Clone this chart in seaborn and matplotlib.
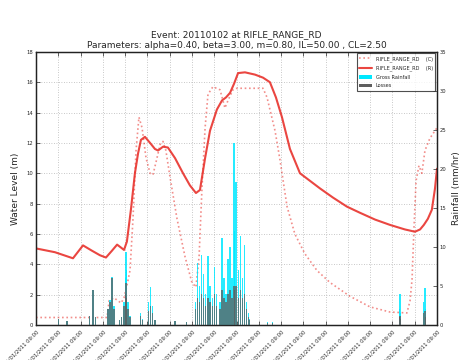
import numpy as np
import pandas as pd
import seaborn as sns
import matplotlib
matplotlib.use("Agg")
import matplotlib.pyplot as plt
from matplotlib.lines import Line2D
from matplotlib.patches import Patch

# ---- water level, observed (R) : time in days from start, level in m ----
obs_t = [0, 0.85, 1.66, 2.11, 2.51, 2.87, 3.14, 3.41, 3.64, 3.82, 3.95, 4.08,
         4.26, 4.44, 4.58, 4.71, 4.89, 5.12, 5.34, 5.48, 5.70, 5.92, 6.24, 6.60,
         6.91, 7.18, 7.36, 7.59, 7.81, 8.12, 8.35, 8.53, 8.71, 8.89, 9.07, 9.38,
         9.83, 10.19, 10.50, 10.77, 11.04, 11.40, 11.85, 12.30, 12.75, 13.33,
         13.96, 14.54, 15.22, 15.89, 16.56, 17.01, 17.24, 17.41, 17.59, 17.77,
         17.91, 18.0]
obs_level = [5.05, 4.8, 4.4, 5.25, 4.9, 4.6, 4.45, 4.9, 5.3, 5.1, 4.95, 5.5,
             7.6, 10.0, 11.3, 12.2, 12.4, 12.0, 11.6, 11.5, 11.75, 11.7, 11.0, 10.0,
             9.2, 8.7, 8.9, 11.0, 12.8, 14.2, 14.8, 15.0, 15.3, 15.9, 16.6, 16.65,
             16.5, 16.3, 16.0, 15.0, 13.7, 11.6, 10.0, 9.5, 9.0, 8.4,
             7.8, 7.4, 6.95, 6.6, 6.3, 6.15, 6.3, 6.6, 7.0, 7.6,
             9.0, 10.3]

# ---- water level, computed (C) ----
sim_t = [0, 3.19, 3.28, 3.50, 3.68, 3.82, 3.95, 4.08, 4.22, 4.35, 4.49, 4.62,
         4.76, 4.94, 5.12, 5.25, 5.43, 5.57, 5.70, 5.83, 6.01, 6.33, 6.69, 7.00,
         7.18, 7.32, 7.45, 7.59, 7.72, 7.94, 8.26, 8.39, 8.48, 8.62, 8.84, 9.02,
         9.61, 10.19, 10.37, 10.50, 10.73, 10.95, 11.27, 11.62, 12.07, 12.61,
         13.20, 14.09, 14.99, 15.89, 16.65, 16.79, 16.88, 16.97, 17.06, 17.19,
         17.32, 17.46, 17.68, 18.0]
sim_level = [0.5, 0.5, 1.6, 1.8, 1.6, 1.45, 1.8, 2.6, 3.6, 6.9, 11.5, 13.7,
             13.0, 11.0, 10.0, 9.9, 11.0, 11.9, 12.1, 11.5, 9.8, 7.0, 4.5, 2.8,
             2.5, 4.5, 9.0, 13.0, 15.2, 15.7, 15.5, 14.8, 14.3, 14.8, 15.5, 15.6,
             15.6, 15.6, 15.0, 14.2, 12.8, 10.9, 7.8, 6.0, 4.7, 3.6,
             2.8, 1.9, 1.2, 0.86, 0.8, 1.6, 3.0, 6.5, 9.5, 10.5,
             10.0, 11.5, 12.3, 13.0]

# ---- hourly rainfall (mm/hr) ----
rain_t = [0.99, 1.39, 2.42, 2.56, 2.69, 3.23, 3.32, 3.41, 3.50, 3.73, 3.82,
          3.95, 4.00, 4.04, 4.08, 4.13, 4.22, 4.71, 4.80, 5.03, 5.12, 5.21,
          5.34, 6.24, 6.74, 7.14, 7.23, 7.32, 7.41, 7.50, 7.59, 7.72, 7.81,
          7.94, 8.03, 8.12, 8.26, 8.35, 8.44, 8.53, 8.62, 8.71, 8.80, 8.89,
          8.93, 8.98, 9.07, 9.16, 9.25, 9.34, 9.43, 9.52, 9.60, 10.40, 10.62,
          16.30, 16.34, 16.38, 17.41, 17.46, 17.50]
rain_gross = [0.8, 0.5, 1.2, 4.5, 1.0, 2.0, 3.2, 6.2, 2.5, 0.6, 1.0,
              3.0, 6.0, 9.4, 7.0, 3.0, 1.2, 1.5, 0.8, 3.0, 4.9, 2.5,
              0.6, 0.5, 0.4, 3.0, 8.0, 5.0, 9.0, 6.5, 4.0, 8.8, 5.0,
              3.5, 7.5, 4.0, 3.0, 11.2, 6.0, 4.0, 8.5, 10.0, 6.0, 23.3,
              12.0, 18.3, 7.0, 11.4, 6.0, 10.2, 3.0, 1.5, 0.8, 0.4, 0.4,
              2.0, 4.0, 1.5, 3.0, 4.7, 2.0]
rain_loss = [0.8, 0.5, 1.2, 4.5, 1.0, 2.0, 3.0, 6.0, 2.0, 0.6, 1.0,
             2.5, 4.0, 5.4, 3.5, 2.0, 1.0, 1.2, 0.6, 1.8, 2.5, 1.5,
             0.6, 0.5, 0.4, 2.0, 3.5, 3.0, 4.0, 3.5, 2.5, 3.5, 3.0,
             2.5, 4.0, 2.5, 2.0, 4.5, 3.5, 3.0, 4.0, 4.5, 3.5, 5.0,
             4.5, 5.0, 3.5, 4.5, 3.5, 4.0, 2.0, 1.0, 0.6, 0.3, 0.3,
             1.0, 1.2, 0.8, 1.5, 1.8, 1.0]

tick_labels = [f"{d:02d}/01/2011 09:00" for d in range(1, 20)]

sns.set_theme(style="ticks")
plt.rcParams["font.family"] = ["DejaVu Sans"]

fig = plt.figure(figsize=(4.64, 3.6), dpi=100)
ax = fig.add_axes([0.0776, 0.097, 0.8642, 0.759])
ax2 = ax.twinx()

red = "#e8322c"
cyan = "#00e8ff"
grey = "#5e5e5e"
obs_df = pd.DataFrame({"t": obs_t, "level": obs_level})
sim_df = pd.DataFrame({"t": sim_t, "level": sim_level})
sns.lineplot(data=sim_df, x="t", y="level", ax=ax, color=red, alpha=0.55,
             linestyle=(0, (1, 1.6)), linewidth=1.2, sort=False)
sns.lineplot(data=obs_df, x="t", y="level", ax=ax, color=red, alpha=0.9,
             linewidth=1.5, sort=False)

# rainfall bars on the secondary axis: gross first, losses drawn over it
bar_w = 0.05
ax2.bar(rain_t, rain_gross, width=bar_w, color=cyan, alpha=0.85, linewidth=0)
ax2.bar(rain_t, rain_loss, width=bar_w, color=grey, alpha=0.75, linewidth=0)

ax.set_xlim(0, 18)
ax.set_ylim(0, 18)
ax2.set_ylim(0, 35)
ax.set_yticks(np.arange(0, 19, 2))
ax2.set_yticks(np.arange(0, 36, 5))
ax.set_xticks(np.arange(0, 19, 1))
ax.set_xticklabels(tick_labels, rotation=45, ha="right", rotation_mode="anchor")

ax.set_xlabel("")
ax.set_ylabel("Water Level (m)", fontsize=6.5, labelpad=5)
ax2.set_ylabel("Rainfall (mm/hr)", fontsize=6.5, labelpad=4)

ax.grid(True, color="#b5b5b5", linestyle=(0, (1, 2)), linewidth=0.6)
ax.tick_params(axis="both", labelsize=3.8, direction="in", length=3,
               width=0.5, top=True, pad=2)
ax.tick_params(axis="x", pad=3)
ax2.tick_params(axis="y", labelsize=3.8, direction="in", length=3, width=0.5, pad=2)
for a in (ax, ax2):
    for s in a.spines.values():
        s.set_linewidth(0.9)
        s.set_color("#222222")

ax.set_title("Event: 20110102 at RIFLE_RANGE_RD\n"
             "Parameters: alpha=0.40, beta=3.00, m=0.80, IL=50.00 , CL=2.50",
             fontsize=6.5, pad=3, linespacing=1.15)

handles = [
    Line2D([], [], color=red, alpha=0.55, linestyle=(0, (1, 1.6)), linewidth=1.2),
    Line2D([], [], color=red, alpha=0.9, linewidth=1.5),
    Patch(facecolor=cyan, edgecolor="none"),
    Patch(facecolor=grey, edgecolor="none"),
]
labels = ["RIFLE_RANGE_RD    (C)", "RIFLE_RANGE_RD    (R)",
          "Gross Rainfall", "Losses"]
leg = ax2.legend(handles, labels, loc="upper right", fontsize=3.6,
                 frameon=True, fancybox=False, borderaxespad=0.3,
                 handlelength=2.5, labelspacing=0.75, borderpad=0.5)
leg.get_frame().set_edgecolor("#222222")
leg.get_frame().set_linewidth(0.8)

fig.savefig("out.png", dpi=100)
